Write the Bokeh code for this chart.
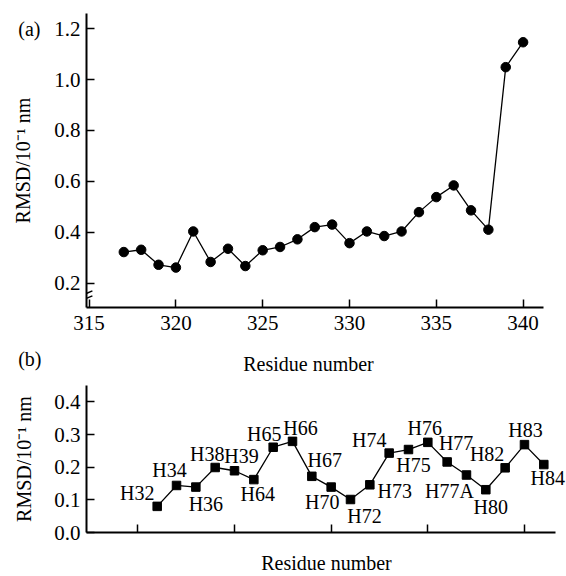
from bokeh.plotting import figure
from bokeh.models import (Range1d, FixedTicker, PrintfTickFormatter, ColumnDataSource,
                          LabelSet, LinearAxis)
from bokeh.layouts import column
from bokeh.embed import file_html
from bokeh.resources import INLINE

# ---------------- data ----------------
# (a) RMSD per residue
residues_a = [317, 318, 319, 320, 321, 322, 323, 324, 325, 326, 327, 328,
              329, 330, 331, 332, 333, 334, 335, 336, 337, 338, 339, 340]
rmsd_a = [0.322, 0.331, 0.272, 0.261, 0.403, 0.283, 0.335, 0.267, 0.329, 0.342, 0.372, 0.420,
          0.430, 0.357, 0.403, 0.385, 0.403, 0.479, 0.538, 0.584, 0.486, 0.410, 1.049, 1.147]
xticks_a = [315, 320, 325, 330, 335, 340]
yticks_a = [0.2, 0.4, 0.6, 0.8, 1.0, 1.2]

# (b) RMSD per helix residue label
labels_b = ["H32", "H34", "H36", "H38", "H39", "H64", "H65", "H66", "H67", "H70", "H72",
            "H73", "H74", "H75", "H76", "H77", "H77A", "H80", "H82", "H83", "H84"]
pos_b = list(range(1, len(labels_b) + 1))
rmsd_b = [0.080, 0.144, 0.139, 0.199, 0.189, 0.162, 0.261, 0.279, 0.172, 0.139, 0.101,
          0.146, 0.243, 0.254, 0.276, 0.216, 0.176, 0.131, 0.198, 0.269, 0.208]
xticks_b = [0, 5, 10, 15, 20]
yticks_b = [0.0, 0.1, 0.2, 0.3, 0.4]

# label placement offsets (screen px; dy positive = downward)
label_dx = [-20, -7, 10, -8, 7, 4, -9, 8, 13, -9, 14, 25, -20, 5, -3, 9, -17, 5, -18, 1, 4]
label_dy = [-13, -15, 17, -13, -15, 14, -13, -13, -16, 15, 16, 6, -13, 15, -14, -19, 16, 17, -14, -15, 13]

Y_LABEL = "RMSD/10\u207b\u00b9 nm"
X_LABEL = "Residue number"

FONT = "Liberation Serif"
TICK_SIZE = "21px"
LABEL_SIZE = "20px"
W = 566
LEFT = 86          # frame left edge shared by all rows


def base_style(p):
    p.xgrid.visible = False
    p.ygrid.visible = False
    p.outline_line_color = None
    p.background_fill_color = "white"
    p.border_fill_color = "white"


def axis_style(ax):
    ax.axis_line_width = 2
    ax.axis_line_color = "black"
    ax.major_tick_line_width = 1.5
    ax.major_tick_line_color = "black"
    ax.major_tick_in = 8
    ax.major_tick_out = 0
    ax.minor_tick_line_color = None
    ax.major_label_text_font = FONT
    ax.major_label_text_font_size = TICK_SIZE
    ax.major_label_text_color = "black"
    ax.axis_label_text_font = FONT
    ax.axis_label_text_font_size = LABEL_SIZE
    ax.axis_label_text_font_style = "normal"
    ax.axis_label_text_color = "black"


def tag_style(ax):
    axis_style(ax)
    ax.axis_line_color = None
    ax.major_tick_line_color = None
    ax.major_tick_in = 0
    ax.major_label_text_font_size = LABEL_SIZE


# ---------------- panel (a) ----------------
XA = (314.85, 342.5)
XA_AXIS_END = 341.2
pa = figure(width=W, height=345, output_backend="svg", toolbar_location=None,
            x_range=Range1d(*XA), y_range=Range1d(0.104, 1.26),
            min_border_left=LEFT, min_border_right=0, min_border_top=13, min_border_bottom=38)
base_style(pa)
axis_style(pa.xaxis[0])
axis_style(pa.yaxis[0])
pa.xaxis.bounds = (XA[0], XA_AXIS_END)
pa.xaxis.ticker = FixedTicker(ticks=xticks_a)
pa.xaxis.major_label_standoff = 8
pa.yaxis.ticker = FixedTicker(ticks=yticks_a)
pa.yaxis.formatter = PrintfTickFormatter(format="%.1f")
pa.yaxis.major_label_standoff = 6

# outer left axis carrying the panel tag "(a)" and the axis title
tag_a = LinearAxis(ticker=FixedTicker(ticks=[yticks_a[-1]]),
                   major_label_overrides={yticks_a[-1]: "(a)"})
tag_style(tag_a)
tag_a.major_label_standoff = 11
tag_a.axis_label = Y_LABEL
tag_a.axis_label_standoff = -19
pa.add_layout(tag_a, "left")

src_a = ColumnDataSource(dict(x=residues_a, y=rmsd_a))
pa.line("x", "y", source=src_a, line_color="black", line_width=1.3)
pa.scatter("x", "y", source=src_a, marker="circle", size=9.5, color="black")

# axis-break marks on the value axis
BREAK_Y = [0.1595, 0.140]
BREAK_DX, BREAK_DY = 0.34, 0.0098
pa.segment(x0=[XA[0] - BREAK_DX] * 2, y0=[b - BREAK_DY for b in BREAK_Y],
           x1=[XA[0] + BREAK_DX] * 2, y1=[b + BREAK_DY for b in BREAK_Y],
           line_color="black", line_width=1.5)

# ---------------- strip between panels: "(b)" tag and x title of (a) ----------------
STRIP_H = 35
TAG_B_Y = 13
ps = figure(width=W, height=STRIP_H, output_backend="svg", toolbar_location=None,
            x_range=Range1d(LEFT, W), y_range=Range1d(STRIP_H, 0),
            x_axis_type=None, y_axis_type=None,
            min_border_left=LEFT, min_border_right=0, min_border_top=0, min_border_bottom=0)
base_style(ps)
tag_b = LinearAxis(ticker=FixedTicker(ticks=[TAG_B_Y]),
                   major_label_overrides={TAG_B_Y: "(b)"})
tag_style(tag_b)
tag_b.major_label_standoff = 45
ps.add_layout(tag_b, "left")
ps.text(x=[308], y=[18], text=[X_LABEL], text_font={"value": FONT}, text_font_size=LABEL_SIZE,
        text_align="center", text_baseline="middle", text_color="black")

# ---------------- panel (b) ----------------
XB = (-2.657, 22.174)
XB_AXIS_END = 21.6
pb = figure(width=W, height=196, output_backend="svg", toolbar_location=None,
            x_range=Range1d(*XB), y_range=Range1d(0.0, 0.45),
            min_border_left=LEFT, min_border_right=0, min_border_top=5, min_border_bottom=41)
base_style(pb)
axis_style(pb.xaxis[0])
axis_style(pb.yaxis[0])
pb.xaxis.bounds = (XB[0], XB_AXIS_END)
pb.xaxis.ticker = FixedTicker(ticks=xticks_b)
pb.xaxis.major_label_overrides = {t: "" for t in xticks_b}
pb.xaxis.major_label_standoff = 0
pb.xaxis.axis_label = X_LABEL
pb.xaxis.axis_label_standoff = 19
pb.yaxis.ticker = FixedTicker(ticks=yticks_b)
pb.yaxis.formatter = PrintfTickFormatter(format="%.1f")
pb.yaxis.major_label_standoff = 6
pb.yaxis.axis_label = Y_LABEL
pb.yaxis.axis_label_standoff = 16

src_b = ColumnDataSource(dict(x=pos_b, y=rmsd_b, t=labels_b,
                              dx=label_dx, dy=[-d for d in label_dy]))
pb.line("x", "y", source=src_b, line_color="black", line_width=1.3)
pb.scatter("x", "y", source=src_b, marker="square", size=8.5, color="black")
pb.add_layout(LabelSet(x="x", y="y", text="t", source=src_b, x_offset="dx", y_offset="dy",
                       text_font={"value": FONT}, text_font_size=LABEL_SIZE, text_align="center",
                       text_baseline="middle", text_color="black"))

layout = column(pa, ps, pb, spacing=0)
open("out.html", "w").write(file_html(layout, INLINE))
